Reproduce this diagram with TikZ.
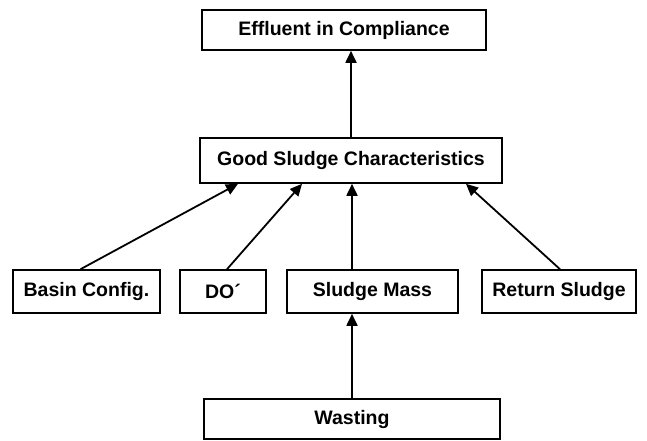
\documentclass[tikz,border=0pt]{standalone}
\usepackage{fontspec}
\setmainfont{Liberation Sans}
\usetikzlibrary{arrows.meta}
\begin{document}
\begin{tikzpicture}[x=1pt,y=-1pt,
  box/.style={draw=black,line width=1.6pt,fill=white,inner sep=0pt,
    font=\fontsize{19.5}{22}\selectfont\bfseries},
  conn/.style={line width=1.8pt,-{Triangle[length=12pt,width=11pt]}}]
\useasboundingbox (0,0) rectangle (647,440);
\node[box,minimum width=284pt,minimum height=40pt] (eff) at (344,30) {Effluent in Compliance};
\node[box,minimum width=302pt,minimum height=45pt] (gsc) at (351,160.5) {Good Sludge Characteristics};
\node[box,minimum width=147pt,minimum height=43pt] (basin) at (86.5,291.5) {Basin Config.};
\node[box,minimum width=86pt,minimum height=43pt] (do) at (223,291.5) {DO´};
\node[box,minimum width=171pt,minimum height=43pt] (mass) at (372.5,291.5) {Sludge Mass};
\node[box,minimum width=154pt,minimum height=43pt] (ret) at (559,291.5) {Return Sludge};
\node[box,minimum width=296pt,minimum height=40pt] (wast) at (352,419) {Wasting};
\draw[conn] (gsc.north) -- (gsc.north |- eff.south);
\draw[conn] ([xshift=-6pt]basin.north) -- ([xshift=-113pt]gsc.south);
\draw[conn] ([xshift=4pt]do.north) -- ([xshift=-49pt]gsc.south);
\draw[conn] ([xshift=-20.5pt]mass.north) -- ([xshift=-20.5pt]mass.north |- gsc.south);
\draw[conn] ([xshift=1pt]ret.north) -- ([xshift=115pt]gsc.south);
\draw[conn] (wast.north) -- (wast.north |- mass.south);
\end{tikzpicture}
\end{document}
